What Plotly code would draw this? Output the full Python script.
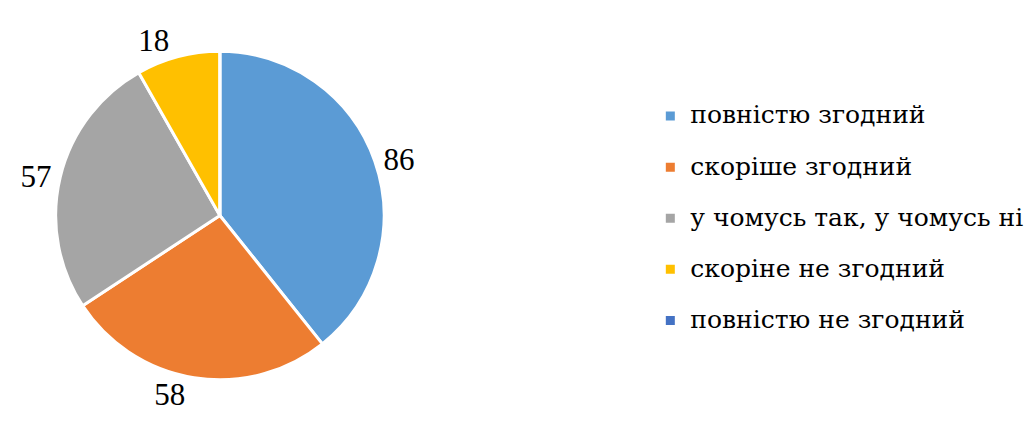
import plotly.graph_objects as go

# chart data
categories = ['повністю згодний', 'скоріше згодний', 'у чомусь так, у чомусь ні',
              'скоріне не згодний', 'повністю не згодний']
values = [86, 58, 57, 18, 0]
colors = ['#5B9BD5', '#ED7D31', '#A5A5A5', '#FFC000', '#4472C4']

SERIF = 'Liberation Serif, Times New Roman, serif'
SERIF_CYR = 'DejaVu Serif, serif'

# hide the label of an empty slice
labels_text = [str(v) if v > 0 else '' for v in values]

# larger legend font only spaces the rows out, the span sets the visible size
legend_labels = ['<span style="font-size:25px;baseline-shift:7px">%s</span>' % c
                 for c in categories]

fig = go.Figure(go.Pie(
    labels=legend_labels,
    values=values,
    text=labels_text,
    textinfo='text',
    textposition='outside',
    sort=False,
    direction='clockwise',
    rotation=0,
    marker=dict(colors=colors, line=dict(color='white', width=3)),
    outsidetextfont=dict(family=SERIF, size=31, color='black'),
    domain=dict(x=[0.046, 0.363], y=[0.117, 0.897]),
    showlegend=True,
    hoverinfo='skip',
))

fig.update_layout(
    width=1036,
    height=421,
    margin=dict(l=0, r=0, t=0, b=0),
    paper_bgcolor='white',
    plot_bgcolor='white',
    font=dict(family=SERIF, color='black'),
    legend=dict(
        x=0.62, y=0.50, xanchor='left', yanchor='middle',
        font=dict(family=SERIF_CYR, size=37, color='black'),
        itemclick=False,
    ),
)

fig.write_html("out.html")
